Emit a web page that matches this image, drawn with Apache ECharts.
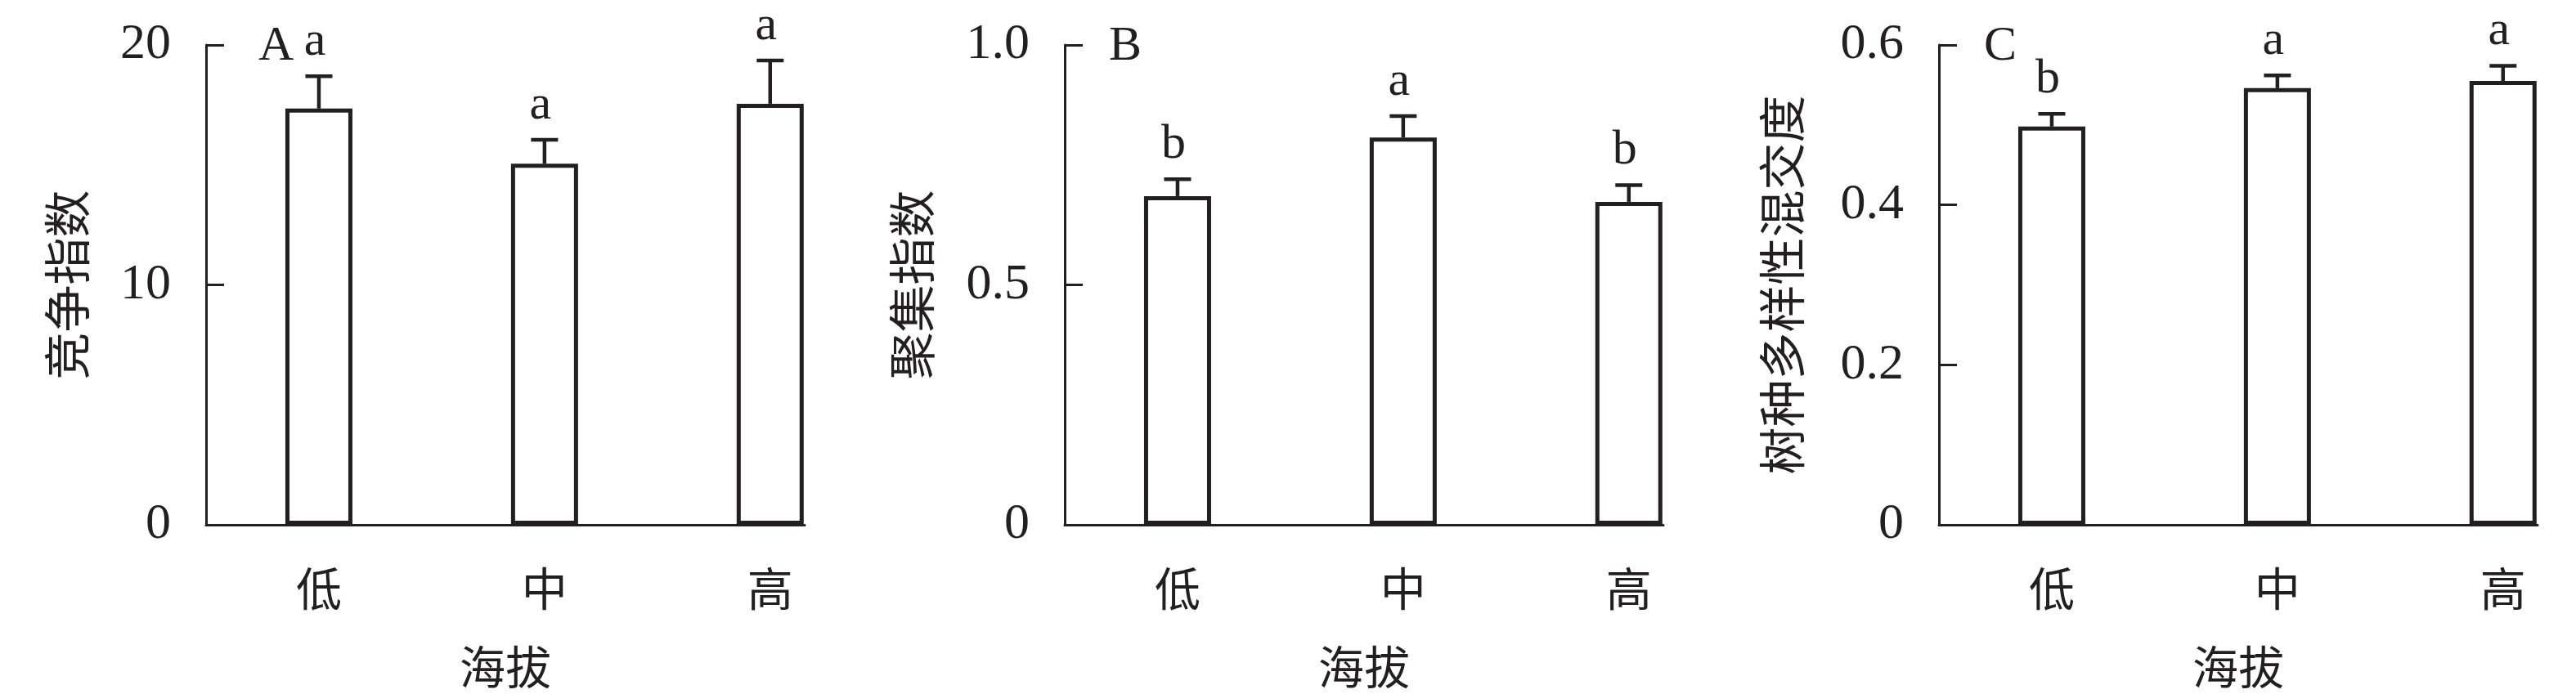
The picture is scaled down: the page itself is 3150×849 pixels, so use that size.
<!DOCTYPE html>
<html>
<head>
<meta charset="utf-8">
<script src="https://cdn.jsdelivr.net/npm/echarts@6/dist/echarts.min.js"></script>
<style>
  html, body { margin: 0; padding: 0; background: #fff; }
  #chart { width: 3150px; height: 849px; }
</style>
</head>
<body>
<div id="chart"></div>
<script>
// 海拔梯度
const categories = ['低', '中', '高'];
const catPos = [1, 2, 3];

// A 竞争指数
const compMean = [17.35, 15.05, 17.55];
const compErr = [1.35, 1.0, 1.8];
const compLetters = ['a', 'a', 'a'];

// B 聚集指数
const aggMean = [0.685, 0.807, 0.673];
const aggErr = [0.035, 0.045, 0.035];
const aggLetters = ['b', 'a', 'b'];

// C 树种多样性混交度
const mixMean = [0.498, 0.546, 0.555];
const mixErr = [0.016, 0.016, 0.019];
const mixLetters = ['b', 'a', 'a'];

const yTicksA = [0, 10, 20];
const yTicksB = [0, 0.5, 1.0];
const yTicksC = [0, 0.2, 0.4, 0.6];

const INK = '#231f20';
const SERIF = '"Liberation Serif", "Times New Roman", serif';
const CJK = '"Noto Sans CJK SC", sans-serif';

const panels = [
  { tag: 'A', name: '竞争指数', mean: compMean, err: compErr, letters: compLetters,
    max: 20, interval: 10, ticks: yTicksA, fmt: v => String(v), left: 252, nameGap: 141, tagLeft: 311 },
  { tag: 'B', name: '聚集指数', mean: aggMean, err: aggErr, letters: aggLetters,
    max: 1.0, interval: 0.5, ticks: yTicksB, fmt: v => (v === 0 ? '0' : v.toFixed(1)), left: 1302, nameGap: 158, tagLeft: 1351 },
  { tag: 'C', name: '树种多样性混交度', mean: mixMean, err: mixErr, letters: mixLetters,
    max: 0.6, interval: 0.2, ticks: yTicksC, fmt: v => (v === 0 ? '0' : v.toFixed(1)), left: 2371, nameGap: 163, tagLeft: 2421 }
];

const grid = [], xAxis = [], yAxis = [], series = [], title = [];

panels.forEach((p, i) => {
  grid.push({ left: p.left, width: 732, top: 55, bottom: 203, containLabel: false });
  title.push({
    text: p.tag, left: p.tagLeft, top: 22,
    textStyle: { fontFamily: SERIF, fontSize: 60, fontWeight: 'normal', color: INK }
  });
  xAxis.push({
    type: 'value', gridIndex: i, min: 0.5, max: 3.153,
    splitLine: { show: false },
    axisLine: { show: true, onZero: false, lineStyle: { color: INK, width: 3 } },
    axisTick: { show: false },
    axisLabel: {
      customValues: catPos,
      formatter: v => categories[catPos.indexOf(v)] || '',
      margin: 50, fontFamily: CJK, fontSize: 56, color: INK
    },
    name: '海拔', nameLocation: 'middle', nameGap: 146,
    nameTextStyle: { fontFamily: CJK, fontSize: 56, color: INK }
  });
  yAxis.push({
    type: 'value', gridIndex: i, min: 0, max: p.max, interval: p.interval,
    splitLine: { show: false },
    axisLine: { show: true, lineStyle: { color: INK, width: 3 } },
    axisTick: { show: true, inside: true, length: 22, lineStyle: { color: INK, width: 3 } },
    axisLabel: { formatter: p.fmt, margin: 43, fontFamily: SERIF, fontSize: 62, color: INK,
                 padding: [6, 0, 0, 0] },
    name: p.name, nameLocation: 'middle', nameRotate: 90, nameGap: p.nameGap,
    nameTextStyle: { fontFamily: CJK, fontSize: 58, color: INK }
  });
  series.push({
    type: 'bar', xAxisIndex: i, yAxisIndex: i,
    barWidth: 82,
    itemStyle: { color: '#fff', borderColor: INK, borderWidth: 5 },
    data: catPos.map((x, k) => [x, p.mean[k]]),
    silent: true, animation: false
  });
  series.push({
    type: 'custom', xAxisIndex: i, yAxisIndex: i,
    data: catPos.map((x, k) => [x, p.mean[k], p.err[k]]),
    renderItem: (params, api) => {
      const x = api.value(0), m = api.value(1), e = api.value(2);
      const base = api.coord([x, m]);
      const top = api.coord([x, m + e]);
      const style = { stroke: INK, lineWidth: 4.5 };
      return {
        type: 'group',
        children: [
          { type: 'line', shape: { x1: base[0], y1: base[1], x2: top[0], y2: top[1] }, style },
          { type: 'line', shape: { x1: top[0] - 16.5, y1: top[1], x2: top[0] + 16.5, y2: top[1] }, style },
          { type: 'text', x: top[0] - 5, y: top[1] - 12,
            style: { text: p.letters[params.dataIndex], fontFamily: SERIF, fontSize: 60,
                     fill: INK, align: 'center', verticalAlign: 'bottom' } }
        ]
      };
    },
    z: 3, silent: true, animation: false
  });
});

const chart = echarts.init(document.getElementById('chart'), null, { renderer: 'canvas' });
chart.setOption({ backgroundColor: '#fff', animation: false, title, grid, xAxis, yAxis, series });
</script>
</body>
</html>
